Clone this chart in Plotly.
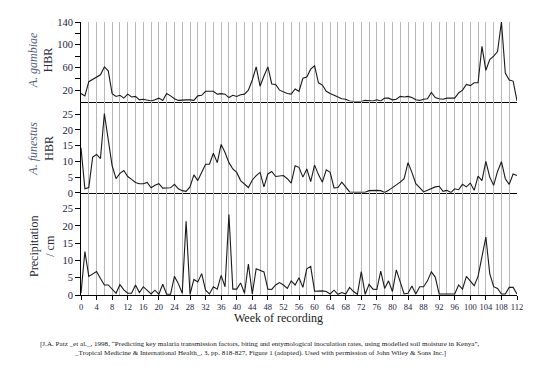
import plotly.graph_objects as go

weeks = list(range(0, 113))

gambiae_hbr = [14, 10, 35, 39, 43, 47, 61, 54, 14, 9,
               11, 6, 13, 8, 9, 3, 4, 3, 1, 3,
               6, 2, 14, 10, 5, 2, 3, 3, 3, 2,
               10, 11, 18, 18, 18, 13, 14, 13, 7, 11,
               9, 12, 13, 20, 38, 61, 27, 45, 61, 31,
               30, 20, 17, 14, 13, 22, 18, 41, 43, 57,
               63, 33, 29, 18, 14, 11, 7, 5, 4, 1,
               0, 0, 0, 2, 2, 1, 3, 1, 6, 6,
               3, 4, 9, 8, 9, 7, 3, 2, 4, 5,
               16, 7, 5, 4, 6, 6, 6, 15, 20, 30,
               28, 33, 33, 97, 55, 74, 80, 88, 140, 50,
               38, 36, 1]

funestus_hbr = [14.3, 1.3, 1.7, 11.4, 12.2, 10.9, 25.2, 17.6, 8.6, 4.5,
                6.2, 7.1, 5.2, 4.3, 3.3, 2.9, 2.9, 3.3, 1.6, 2.4,
                2.9, 1.5, 1.5, 1.6, 2.7, 1.3, 0.7, 0.5, 1.9, 5.7,
                3.9, 6.5, 9.1, 9.1, 12.6, 9.6, 15.4, 12.8, 9.6, 7.6,
                6.5, 3.9, 2.7, 1.7, 4.1, 5.5, 6.5, 1.9, 6.0, 6.8,
                5.2, 5.3, 5.5, 4.5, 3.1, 8.6, 8.1, 5.0, 7.6, 3.6,
                8.8, 5.8, 3.4, 7.3, 6.5, 1.6, 1.7, 3.4, 1.9, 0.3,
                0.2, 0.2, 0.1, 0.2, 0.7, 0.8, 0.8, 0.7, 0.1, 0.8,
                1.6, 2.4, 3.4, 4.5, 9.6, 6.5, 2.9, 1.7, 0.3, 0.8,
                1.3, 1.9, 2.1, 0.5, 0.8, 0.1, 1.3, 1.0, 2.7, 1.9,
                3.1, 0.8, 5.3, 3.9, 10.0, 5.0, 2.4, 6.8, 9.9, 4.5,
                2.7, 6.0, 5.5]

precipitation_cm = [0.5, 12.6, 5.4, 6.2, 6.8, 4.8, 2.9, 2.9, 1.6, 0.5,
                    3.0, 1.5, 0.5, 0.5, 2.9, 0.7, 2.4, 1.4, 0.3, 1.4,
                    0.2, 3.1, 0.2, 0.2, 5.4, 3.3, 0.5, 21.4, 0.2, 4.5,
                    3.8, 6.2, 1.4, 0.3, 2.4, 1.7, 5.7, 2.4, 23.3, 1.7,
                    1.7, 3.5, 0.5, 9.0, 0.3, 7.6, 7.1, 6.7, 1.7, 1.6,
                    2.9, 3.6, 2.9, 1.9, 4.1, 2.9, 5.0, 2.2, 7.6, 8.3,
                    1.1, 1.2, 1.2, 1.0, 0.3, 1.4, 0.2, 0.7, 0.3, 2.2,
                    1.0, 0.2, 6.8, 0.2, 3.1, 1.7, 1.6, 6.9, 1.9, 4.1,
                    1.0, 7.3, 3.8, 0.3, 0.5, 2.6, 0.3, 2.4, 2.4, 4.1,
                    6.7, 5.2, 0.3, 0.3, 0.3, 0.3, 0.3, 2.9, 1.7, 5.4,
                    4.1, 2.7, 5.4, 10.9, 16.8, 6.2, 2.4, 1.9, 0.3, 0.3,
                    2.2, 2.2, 0.3]

x_tick_vals = list(range(0, 113, 4))
gambiae_ticks = [20, 60, 100, 140]
gambiae_minor_ticks = [40, 80, 120]
small_ticks = [0, 5, 10, 15, 20, 25]

FONT = "Liberation Serif"
LINE = "#1a1a1a"
GRID = "#b8b8b8"
TICKTXT = "#1c2340"

fig = go.Figure()
fig.add_trace(go.Scatter(x=weeks, y=gambiae_hbr, mode="lines", xaxis="x", yaxis="y",
                         line=dict(color=LINE, width=1.1), showlegend=False))
fig.add_trace(go.Scatter(x=weeks, y=funestus_hbr, mode="lines", xaxis="x2", yaxis="y2",
                         line=dict(color=LINE, width=1.1), showlegend=False))
fig.add_trace(go.Scatter(x=weeks, y=precipitation_cm, mode="lines", xaxis="x3", yaxis="y3",
                         line=dict(color=LINE, width=1.1), showlegend=False))

def xax(anchor, labels):
    d = dict(anchor=anchor, range=[0, 112], showline=True, linecolor="black", linewidth=1,
             showgrid=True, gridcolor=GRID, gridwidth=1, tickvals=x_tick_vals,
             zeroline=False, minor=dict(dtick=2, tick0=0, showgrid=True, gridcolor=GRID, gridwidth=1),
             tickfont=dict(family=FONT, size=8.5, color=TICKTXT))
    if labels:
        d.update(ticks="outside", ticklen=4, tickcolor="black", showticklabels=True)
    else:
        d.update(ticks="", showticklabels=False)
    return d

def yax(domain, rng, tickvals, minor_vals=None):
    d = dict(domain=domain, range=rng, tickvals=tickvals, ticks="outside", ticklen=5,
             tickcolor="black", showline=True, linecolor="black", linewidth=1,
             showgrid=False, zeroline=False,
             tickfont=dict(family=FONT, size=10.5, color=TICKTXT))
    if minor_vals:
        d["minor"] = dict(tickvals=minor_vals, ticks="outside", ticklen=5, tickcolor="black")
    return d

# page has an 8px body margin; work in page pixel coordinates
OFF = 8
W, H = 557 - OFF, 375 - OFF
PL, PR, PT, PB = 81, 517, 17, 295          # plot area in page px
L, T = PL - OFF, PT - OFF
R, B = W - (PR - OFF), H - (PB - OFF)
pw, ph = PR - PL, PB - PT

def px(xp):
    return (xp - PL) / pw

def py(yp):
    return (PB - yp) / ph

d_top = [py(98), 1.0]
d_mid = [py(191), py(98)]
d_bot = [0.0, py(191)]

fig.update_layout(
    width=W, height=H,
    margin=dict(l=L, r=R, t=T, b=B),
    paper_bgcolor="white", plot_bgcolor="white",
    font=dict(family=FONT, color="#222"),
    xaxis=xax("y", False),
    xaxis2=xax("y2", False),
    xaxis3=xax("y3", True),
    yaxis=yax(d_top, [0, 140], gambiae_ticks, gambiae_minor_ticks),
    yaxis2=yax(d_mid, [0, 29], small_ticks),
    yaxis3=yax(d_bot, [0, 29.6], small_ticks),
)

LBL = "#56607e"
ann = [
    dict(text="<span style='color:%s'><i>A. gambiae</i></span><br>HBR" % LBL, x=px(41), y=py(56)),
    dict(text="<span style='color:%s'><i>A. funestus</i></span><br>HBR" % LBL, x=px(41), y=py(146)),
    dict(text="Precipitation<br>/ cm", x=px(42), y=py(246)),
]
for a in ann:
    fig.add_annotation(xref="paper", yref="paper", x=a["x"], y=a["y"], text=a["text"],
                       textangle=-90, showarrow=False, xanchor="center", yanchor="middle",
                       font=dict(family=FONT, size=12, color="#2a2a3a"))

fig.add_annotation(xref="paper", yref="paper", x=px(278), y=py(318), text="Week of recording",
                   showarrow=False, xanchor="center", yanchor="middle",
                   font=dict(family=FONT, size=12, color="#1a1a1a"))

cap1 = ("[J.A. Patz _et al._, 1998, \u201cPredicting key malaria transmission factors, biting and "
        "entymological inoculation rates, using modelled soil moisture in Kenya\u201d,")
cap2 = ("_Tropical Medicine &amp; International Health_, 3, pp. 818-827, Figure 1 (adapted). "
        "Used with permission of John Wiley &amp; Sons Inc.]")
fig.add_annotation(xref="paper", yref="paper", x=px(260), y=py(345), text=cap1,
                   showarrow=False, xanchor="center", yanchor="middle",
                   font=dict(family=FONT, size=7.1, color="#1a1a1a"))
fig.add_annotation(xref="paper", yref="paper", x=px(260), y=py(354), text=cap2,
                   showarrow=False, xanchor="center", yanchor="middle",
                   font=dict(family=FONT, size=7.1, color="#1a1a1a"))

fig.write_html("out.html")
